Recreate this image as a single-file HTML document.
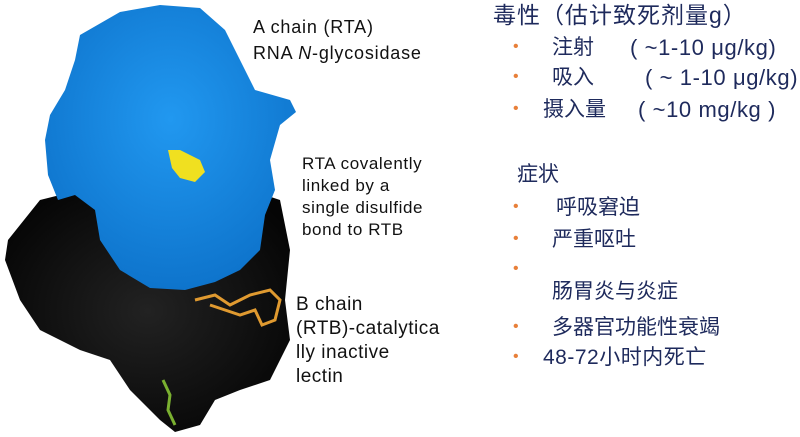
<!DOCTYPE html>
<html><head><meta charset="utf-8"><style>
body{margin:0;width:800px;height:437px;background:#fff;overflow:hidden;position:relative;font-family:"Liberation Sans","Noto Sans CJK SC",sans-serif}
.t{position:absolute;white-space:nowrap;color:#111}
.r{position:absolute;white-space:nowrap;color:#1e2a5c;font-size:21px;line-height:26px}
.p{letter-spacing:0.6px;font-size:22px}
.b{position:absolute;color:#e8803a;font-size:16px}
</style></head><body>
<svg width="800" height="437" style="position:absolute;left:0;top:0">
<defs>
<radialGradient id="bl" cx="50%" cy="40%" r="60%"><stop offset="0" stop-color="#2198f0"/><stop offset="1" stop-color="#0e74cc"/></radialGradient>
<radialGradient id="bk" cx="50%" cy="50%" r="60%"><stop offset="0" stop-color="#222"/><stop offset="1" stop-color="#050505"/></radialGradient>
</defs>
<path d="M60 195 L40 200 L8 240 L5 260 L20 300 L40 330 L80 350 L110 360 L130 390 L160 420 L175 432 L200 425 L215 400 L240 390 L270 380 L290 340 L285 300 L290 250 L280 200 L250 190 L180 190 Z" fill="url(#bk)"/>
<path d="M80 35 L120 12 L160 5 L200 8 L225 30 L240 60 L255 90 L290 100 L296 112 L280 125 L270 160 L275 190 L265 215 L260 250 L240 270 L215 282 L185 290 L150 288 L120 270 L100 240 L95 210 L75 195 L58 200 L48 175 L45 140 L50 115 L65 90 L75 60 Z" fill="url(#bl)"/>
<path d="M168 150 L180 150 L200 160 L205 172 L195 182 L180 178 L172 168 Z" fill="#f0e020"/>
<path d="M195 300 L215 295 L230 305 L250 295 L270 290 L280 300 L275 320 L262 325 L255 310 L240 315 L225 310 L210 305" fill="none" stroke="#e09a30" stroke-width="3"/>
<path d="M163 380 L170 395 L168 410 L175 425" fill="none" stroke="#7ab030" stroke-width="3"/>
</svg>
<div class="t" style="left:253px;top:14px;font-size:18px;line-height:26px;letter-spacing:0.8px">A chain (RTA)<br>RNA <i>N</i>-glycosidase</div>
<div class="t" style="left:302px;top:153px;font-size:17px;line-height:22px;letter-spacing:0.6px">RTA covalently<br>linked by a<br>single disulfide<br>bond to RTB</div>
<div class="t" style="left:296px;top:293px;font-size:19px;line-height:24px;letter-spacing:0.5px">B chain<br>(RTB)-catalytica<br>lly inactive<br>lectin</div>
<div class="r" style="left:493px;top:1px;font-size:23px;line-height:28px;letter-spacing:1px">毒性（估计致死剂量g）</div>
<div class="b" style="left:513px;top:38px">•</div><div class="r" style="left:552px;top:35px">注射</div><div class="r p" style="left:630px;top:35px">( ~1-10 μg/kg)</div>
<div class="b" style="left:513px;top:68px">•</div><div class="r" style="left:552px;top:65px">吸入</div><div class="r p" style="left:645px;top:65px">( ~ 1-10 μg/kg)</div>
<div class="b" style="left:513px;top:100px">•</div><div class="r" style="left:543px;top:97px">摄入量</div><div class="r p" style="left:638px;top:97px">( ~10 mg/kg )</div>
<div class="r" style="left:517px;top:162px">症状</div>
<div class="b" style="left:513px;top:198px">•</div><div class="r" style="left:556px;top:195px">呼吸窘迫</div>
<div class="b" style="left:513px;top:230px">•</div><div class="r" style="left:552px;top:227px">严重呕吐</div>
<div class="b" style="left:513px;top:260px">•</div>
<div class="r" style="left:552px;top:279px">肠胃炎与炎症</div>
<div class="b" style="left:513px;top:318px">•</div><div class="r" style="left:552px;top:315px">多器官功能性衰竭</div>
<div class="b" style="left:513px;top:348px">•</div><div class="r" style="left:543px;top:345px;letter-spacing:0.5px">48-72小时内死亡</div>
</body></html>
